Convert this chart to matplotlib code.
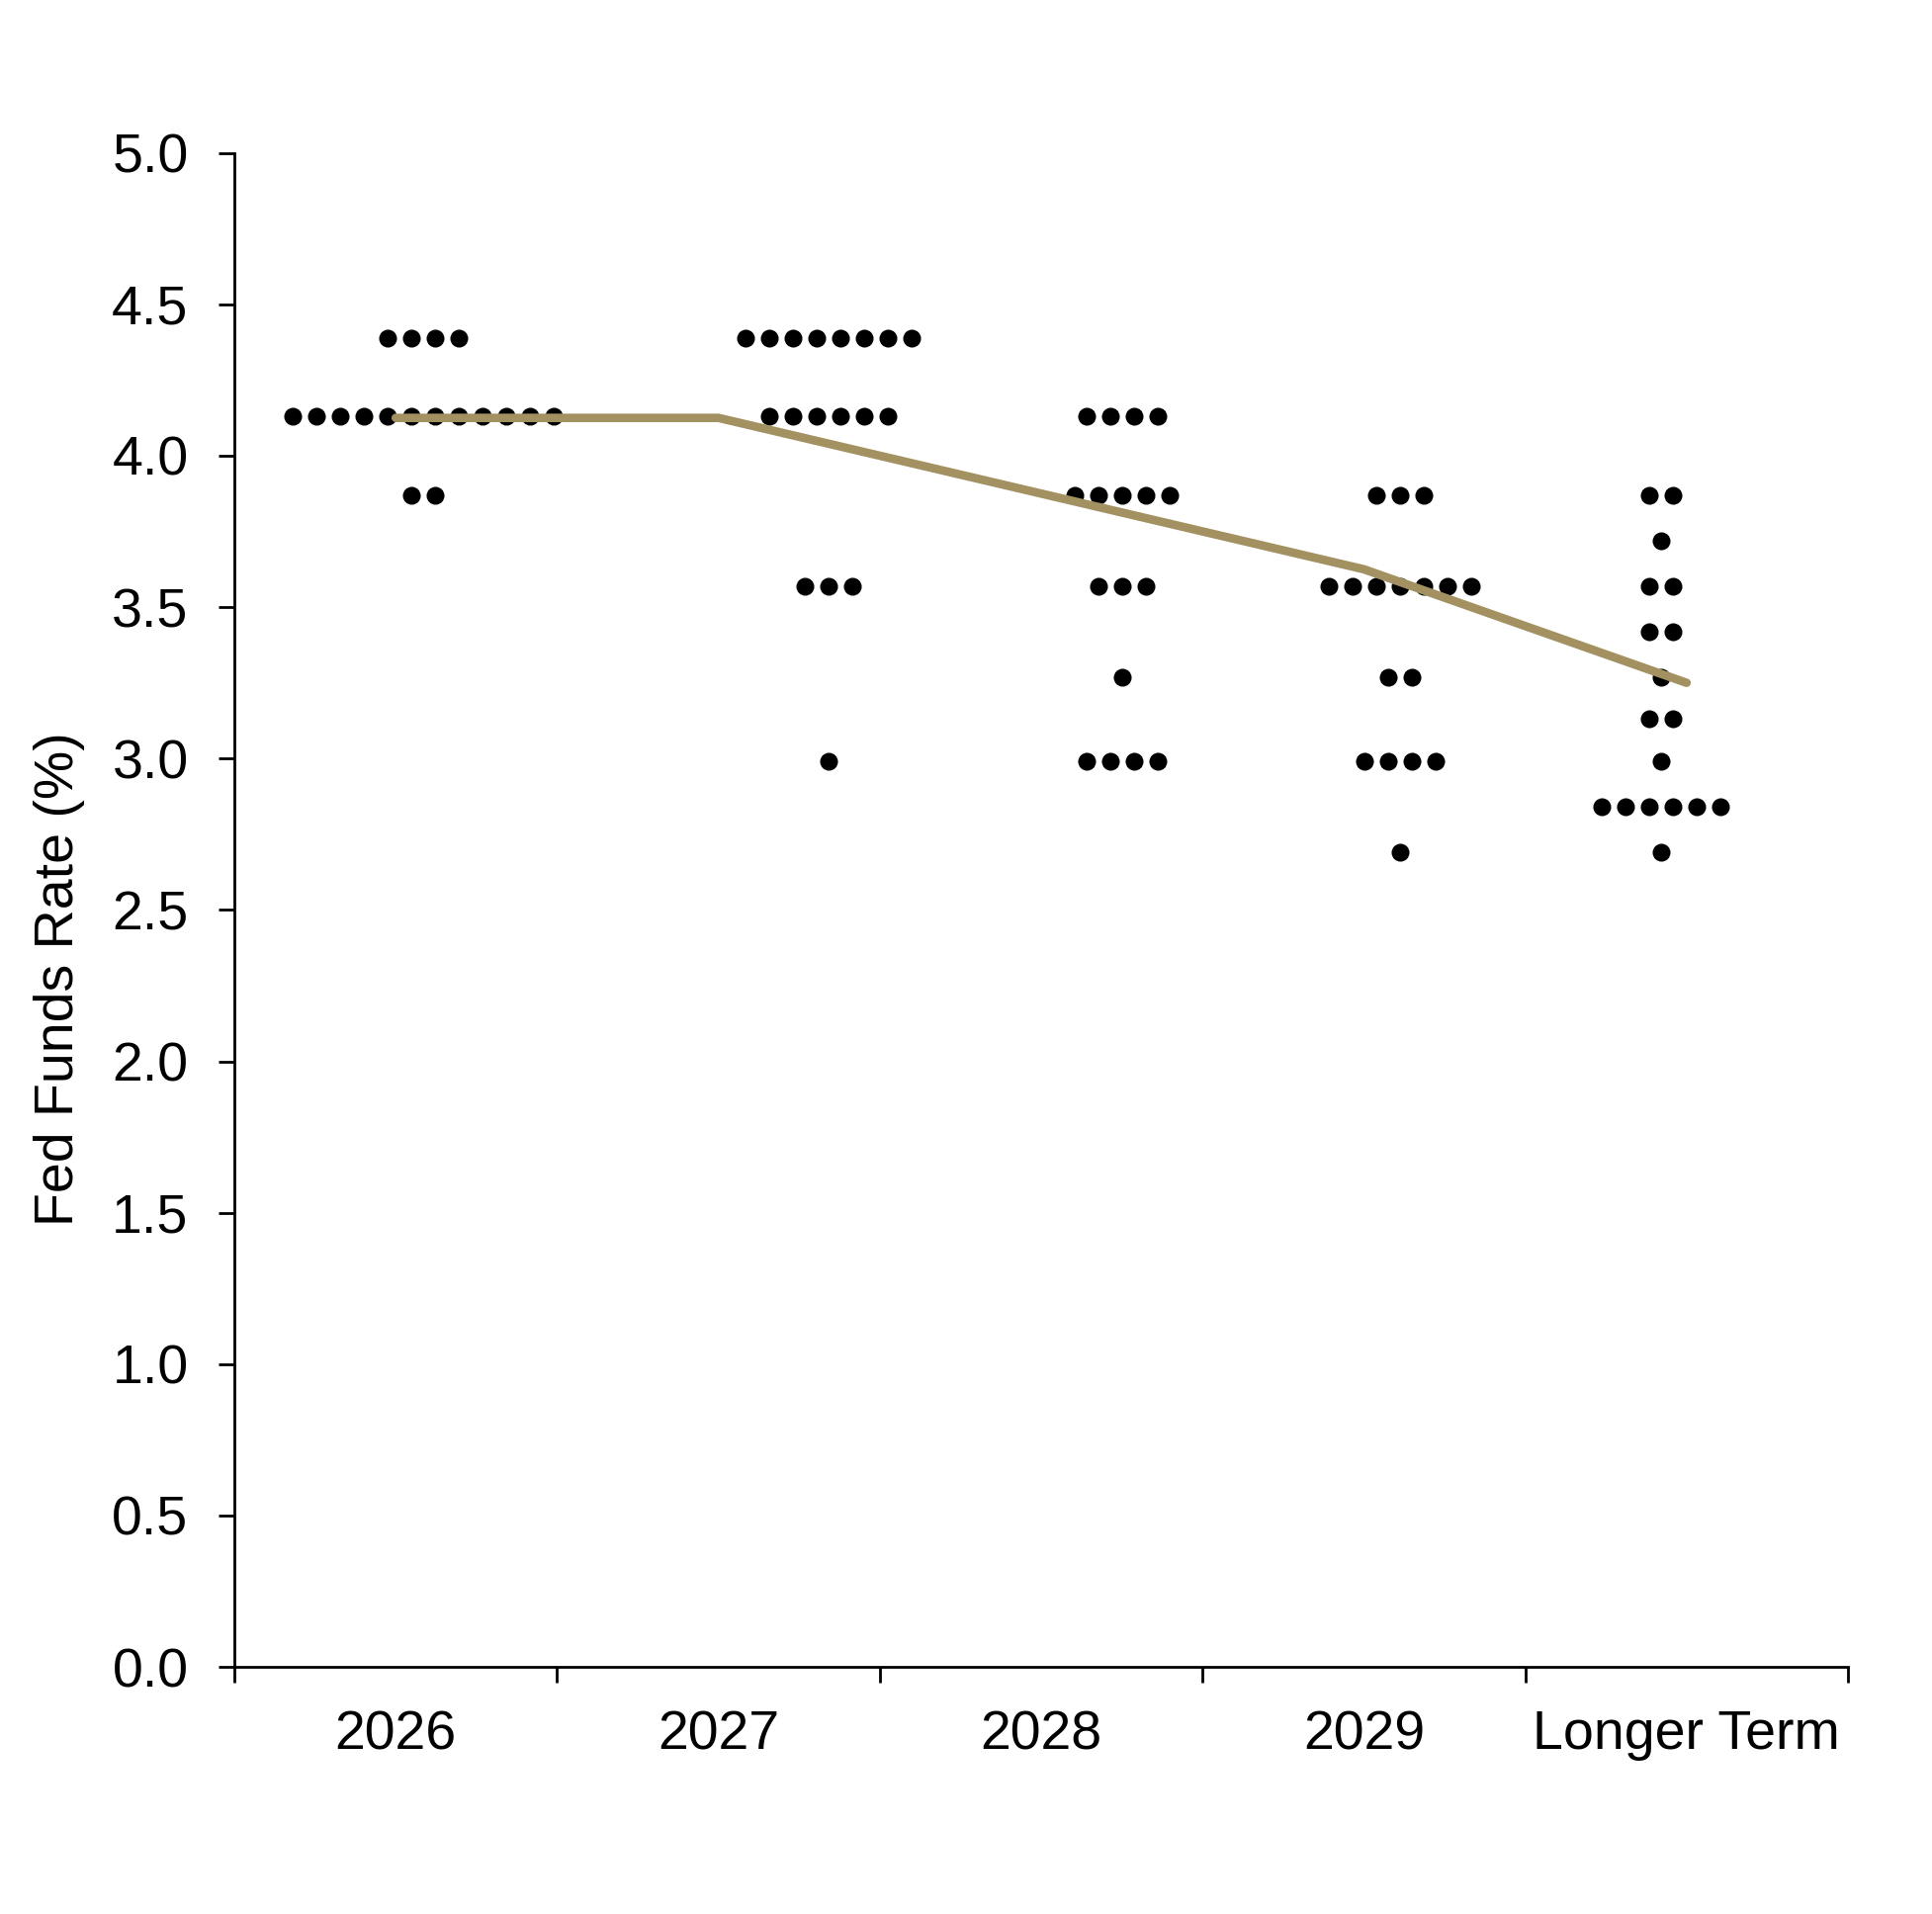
import matplotlib
matplotlib.use("Agg")
import matplotlib.pyplot as plt
import numpy as np

plt.rcParams['font.family'] = ['Liberation Sans', 'DejaVu Sans']

# categories on the x axis
categories = ['2026', '2027', '2028', '2029', 'Longer Term']

# dot rows per column: rate level and number of participants at that level
rates_2026 = [4.39, 4.13, 3.87]
counts_2026 = [4, 12, 2]
rates_2027 = [4.39, 4.13, 3.57, 2.99]
counts_2027 = [8, 6, 3, 1]
rates_2028 = [4.13, 3.87, 3.57, 3.27, 2.99]
counts_2028 = [4, 5, 3, 1, 4]
rates_2029 = [3.87, 3.57, 3.27, 2.99, 2.69]
counts_2029 = [3, 7, 2, 4, 1]
rates_lt = [3.87, 3.72, 3.57, 3.42, 3.27, 3.13, 2.99, 2.84, 2.69]
counts_lt = [2, 1, 2, 2, 1, 2, 1, 6, 1]

# median line
median = [4.125, 4.125, 3.875, 3.625, 3.25]

columns = [(rates_2026, counts_2026), (rates_2027, counts_2027),
           (rates_2028, counts_2028), (rates_2029, counts_2029),
           (rates_lt, counts_lt)]

# where each column's dot cluster is centred (axis units) and dot spacing
dot_center = [0.585, 1.840, 2.752, 3.613, 4.421]
dot_step = 0.0736

fig = plt.figure(figsize=(19.54, 19.36), dpi=100)
ax = fig.add_axes([0.1213, 0.1291, 0.8352, 0.7910])

for (rates, counts), xc in zip(columns, dot_center):
    for r, n in zip(rates, counts):
        xs = xc + (np.arange(n) - (n - 1) / 2.0) * dot_step
        ax.plot(xs, [r] * n, 'o', color='black', markersize=13,
                markeredgewidth=0, zorder=2)

xpos = np.arange(len(categories)) + 0.5
ax.plot(xpos, median, color='#A39161', linewidth=6.2,
        solid_capstyle='round', zorder=3)

ax.set_xlim(0, 5)
ax.set_ylim(0, 5)

ax.spines['top'].set_visible(False)
ax.spines['right'].set_visible(False)
ax.spines['left'].set_linewidth(2)
ax.spines['bottom'].set_linewidth(2)

ax.set_xticks(np.arange(0, 6))
ax.set_xticklabels([])
ax.set_xticks(xpos, minor=True)
ax.set_xticklabels(categories, minor=True)
ax.tick_params(axis='x', which='major', direction='out', length=11.5, width=2)
ax.tick_params(axis='x', which='minor', length=0, pad=31, labelsize=40)

ax.set_yticks(np.arange(0, 5.01, 0.5))
ax.set_yticklabels([f'{v:.1f}' for v in np.arange(0, 5.01, 0.5)])
ax.tick_params(axis='y', direction='out', length=11.5, width=2, pad=22,
               labelsize=40)

fig.text(60 / 1954, 1 - 990 / 1936, 'Fed Funds Rate (%)', rotation=90,
         ha='center', va='center', fontsize=40)

fig.savefig('out.png', dpi=100)
